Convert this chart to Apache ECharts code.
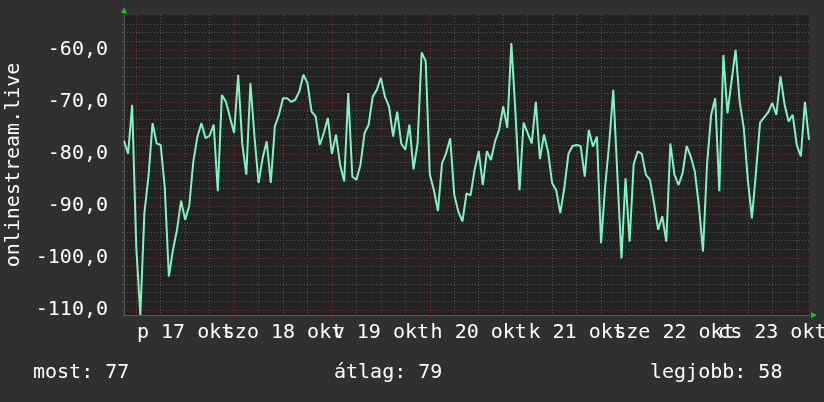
<!DOCTYPE html>
<html>
<head>
<meta charset="utf-8">
<style>
  html, body { margin: 0; padding: 0; background: #303030; }
  #chart { width: 824px; height: 402px; }
</style>
<script src="https://cdn.jsdelivr.net/npm/echarts@6/dist/echarts.min.js"></script>
</head>
<body>
<div id="chart"></div>
<script>
// hourly samples, okt 16 21:00 -> okt 23 21:00
const values = [
  -77.5, -80, -70.6, -97.8, -111, -91.4, -84.4, -74.1, -78, -78.3,
  -86.5, -103.6, -98.5, -94.6, -89, -92.7, -90, -81.5, -76.7, -74.1,
  -77, -76.5, -74.4, -87.2, -68.7, -70, -73, -76, -64.8, -78,
  -84, -66.4, -76.7, -85.6, -80.8, -77.6, -85.6, -74.7, -72.5, -69.3,
  -69.3, -70, -69.6, -68, -64.8, -66.4, -71.9, -72.8, -78.3, -76,
  -73.1, -80, -76.3, -82.1, -85.3, -68.3, -84.4, -85, -82.1, -76,
  -74.4, -69, -67.7, -65.4, -69, -70.9, -76.7, -71.9, -78, -79.2,
  -74.4, -83, -78, -60.5, -62.2, -84, -87, -91, -81.8, -79.9,
  -77, -87.9, -91.1, -93, -87.6, -88, -83, -79.5, -86, -79.5,
  -81.2, -77.6, -75.4, -70.9, -75, -58.7, -72, -87, -74, -76,
  -78, -70, -81, -76.3, -79.6, -85.6, -87, -91.4, -86.5, -80,
  -78.5, -78.3, -78.5, -84.4, -75.4, -78.6, -76.7, -97.2, -86.3, -78,
  -67.7, -84, -100.1, -84.7, -96.9, -82, -79.5, -80, -84, -85,
  -89.5, -94.6, -92, -96.9, -78, -84, -86, -83.7, -78.5, -80.5,
  -83.4, -90, -98.8, -82, -72.5, -69.3, -87.2, -61, -72.2, -66,
  -60, -70, -75, -85, -92.4, -83.5, -74, -73, -72, -70.2,
  -72.5, -65.1, -70.5, -73.8, -72.5, -78.3, -80.5, -70, -77.3
]
const hours = values.map((v, i) => String(i))
const dayLabels = ['p 17 okt', 'szo 18 okt', 'v 19 okt', 'h 20 okt', 'k 21 okt', 'sze 22 okt', 'cs 23 okt']
const majorTicks = [-110, -100, -90, -80, -70, -60]
const statLabels = ['most', 'átlag', 'legjobb']
const statValues = [77, 79, 58]

// minor grid: 6 steps per 10
const minorTicks = []
for (let k = 1; k < 34; k++) {
  const v = -110 + (k * 10) / 6
  if (k % 6 !== 0) minorTicks.push(Math.round(v * 100) / 100)
}

const font = 'DejaVu Sans Mono'
const redLine = { color: '#8a2a2a', width: 1, type: [1, 2] }
const grayLine = { color: '#555555', width: 1, type: [1, 2] }

// day labels sit at noon; even and odd days go on two axes so they may overlap
const dayLabel = (offset) => ({
  color: '#ffffff',
  fontFamily: font,
  fontSize: 20,
  margin: 8,
  showMinLabel: true,
  showMaxLabel: true,
  hideOverlap: false,
  interval: (i) => i % 48 === offset,
  formatter: (value, index) => dayLabels[(index - 15) / 24],
})

const chart = echarts.init(document.getElementById('chart'))
chart.setOption({
  backgroundColor: '#303030',
  animation: false,
  grid: {
    left: 124,
    right: 15,
    top: 15,
    bottom: 87,
    show: true,
    backgroundColor: '#222222',
    borderWidth: 0,
    outerBoundsMode: 'none',
  },
  xAxis: [
    {
      type: 'category',
      position: 'bottom',
      data: hours,
      boundaryGap: false,
      axisLine: { show: true, lineStyle: { color: '#5a5a5a', width: 1 } },
      axisTick: { show: true, length: 2, interval: (i) => i % 24 === 3, lineStyle: { color: '#8a2a2a' } },
      axisLabel: dayLabel(15),
      splitLine: { show: true, interval: (i) => i % 24 === 3, lineStyle: redLine },
      z: 3,
    },
    {
      type: 'category',
      position: 'bottom',
      data: hours,
      boundaryGap: false,
      axisLine: {
        show: true,
        symbol: ['none', 'triangle'],
        symbolSize: [6, 6],
        symbolOffset: [0, 5],
        lineStyle: { color: '#00d000', width: 0 },
      },
      axisTick: { show: false },
      axisLabel: dayLabel(39),
      splitLine: { show: true, interval: (i) => i % 6 === 3 && i % 24 !== 3, lineStyle: grayLine },
      z: 2,
    },
  ],
  yAxis: [
    {
      type: 'value',
      position: 'left',
      min: -111,
      max: -53.3,
      name: 'onlinestream.live',
      nameLocation: 'middle',
      nameRotate: 90,
      nameGap: 100,
      nameTextStyle: { color: '#ffffff', fontFamily: font, fontSize: 20 },
      axisLine: { show: true, lineStyle: { color: '#5a5a5a', width: 1 } },
      axisTick: { show: true, length: 2, customValues: majorTicks, lineStyle: { color: '#8a2a2a' } },
      axisLabel: {
        color: '#ffffff',
        fontFamily: font,
        fontSize: 20,
        margin: 16,
        customValues: majorTicks,
        formatter: (v) => v.toFixed(1).replace('.', ','),
      },
      splitLine: { show: true, lineStyle: redLine },
      z: 3,
    },
    {
      type: 'value',
      position: 'left',
      min: -111,
      max: -53.3,
      axisLine: {
        show: true,
        symbol: ['none', 'triangle'],
        symbolSize: [6, 6],
        symbolOffset: [0, 5],
        lineStyle: { color: '#00d000', width: 0 },
      },
      axisTick: { show: true, length: 2, customValues: minorTicks, lineStyle: { color: '#555555' } },
      axisLabel: { show: false },
      splitLine: { show: true, lineStyle: grayLine },
      z: 2,
    },
  ],
  graphic: [
    { type: 'text', left: 33, top: 363, style: { text: statLabels[0] + ': ' + statValues[0], fill: '#ffffff', font: '20px ' + font } },
    { type: 'text', left: 334, top: 363, style: { text: statLabels[1] + ': ' + statValues[1], fill: '#ffffff', font: '20px ' + font } },
    { type: 'text', left: 650, top: 363, style: { text: statLabels[2] + ': ' + statValues[2], fill: '#ffffff', font: '20px ' + font } },
  ],
  series: [
    {
      type: 'line',
      data: values,
      xAxisIndex: 0,
      yAxisIndex: 0,
      symbol: 'none',
      color: '#7df5c2',
      lineStyle: { width: 2, color: '#7df5c2' },
      z: 5,
    },
  ],
})
</script>
</body>
</html>
